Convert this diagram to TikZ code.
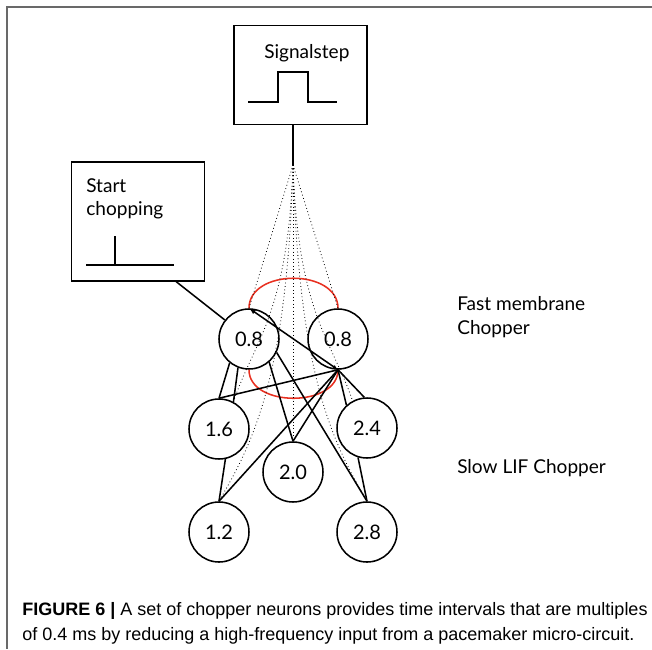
\documentclass[tikz,border=0pt]{standalone}
\usepackage{fontspec}
\usetikzlibrary{arrows.meta}
\newfontfamily\figfont{Lato}
\newfontfamily\capfont{Liberation Sans}
\definecolor{arcred}{RGB}{232,48,32}
\definecolor{framegray}{RGB}{105,105,105}
\tikzset{
  neuron/.style={
      draw,
      circle,
      line width=1.15pt,
      minimum size=45pt,
      inner sep=0pt,
      font=\figfont\fontsize{15}{18}\selectfont
    },
  stimbox/.style={
      draw,
      line width=1.15pt,
      inner sep=0pt
    },
  syn/.style={line width=1.15pt},
  fanline/.style={dotted, line width=0.6pt},
  recur/.style={arcred, line width=1.15pt},
  lbl/.style={
      anchor=base west,
      inner sep=0pt,
      font=\figfont\fontsize{14.3}{17}\selectfont
    },
  caption/.style={
      anchor=base west,
      inner sep=0pt,
      font=\capfont\fontsize{13.5}{16}\selectfont
    }
}

\begin{document}
\begin{tikzpicture}[x=0.75pt,y=-0.75pt,>=Latex]
\useasboundingbox (0,0) rectangle (652,649);
% the frame
\draw[framegray, line width=1.1pt] (652,7) -- (7,7) -- (7,649);

% the stimulus boxes
\node[stimbox, minimum width=100pt, minimum height=74pt] at (300.5,75) (sig) {};
\node[stimbox, minimum width=100pt, minimum height=89pt] at (138,221.5) (start) {};
\node[lbl] at (264,59) (sigtext) {Signalstep};
\node[lbl] at (86,192) (starttext) {Start};
\node[lbl] at (86,215) (starttext2) {chopping};
\draw[syn] (248,102) -| (278,72) -| (308,102) -- (337,102);
\draw[syn] (86,265) -- (174,265) (115,265) -- (115,236);
\coordinate (fan) at (293,165);

% the neurons
\node[neuron] at (249,339) (fast1) {0.8};
\node[neuron] at (338,339) (fast2) {0.8};
\node[neuron] at (219,429) (slow16) {1.6};
\node[neuron] at (367,428) (slow24) {2.4};
\node[neuron] at (293,472) (slow20) {2.0};
\node[neuron] at (219,532) (slow12) {1.2};
\node[neuron] at (367,532) (slow28) {2.8};
\node[lbl] at (457,310) (fastlbl) {Fast membrane};
\node[lbl] at (457,334) (fastlbl2) {Chopper};
\node[lbl] at (457,473) (slowlbl) {Slow LIF Chopper};

% the connections
\draw[syn] (sig.south -| fan) -- (fan);
\draw[syn] ([xshift=-22pt]start.south east) -- (fast1);
\draw[recur] (fast1.north) .. controls +(0,-40) and +(0,-40) .. (fast2.north);
\draw[recur] (fast1.south) .. controls +(0,38) and +(0,38) .. (fast2.south);
\draw[syn, {Latex[length=5pt]}-{Latex[length=4pt]}] (fast1.north) -- (fast2.south);
\draw[syn] (fast2.south) -- (slow16.north);
\draw[syn] (fast2.south) -- (slow20.north);
\draw[syn] (fast2.south) -- (slow12.north);
\draw[syn] (fast2.south) -- (slow24.132);
\draw[syn] (fast2.south) -- (slow24.95);
\draw[syn] (fast1.231) -- (slow16.north);
\draw[syn] (fast1.249) -- (slow16.62);
\draw[syn] (fast1.311) -- (slow20.north);
\draw[syn] (fast1.334) -- (slow28.north);
\draw[syn] (slow16.282) -- (slow12.north);
\draw[syn] (slow24.253) -- (slow28.north);

% the input fan
\draw[fanline] (fan) -- (fast1.north);
\draw[fanline] (fan) -- (fast2.north);
\draw[fanline] (fan) -- (slow20.north);
\draw[fanline] (fan) .. controls +(-5,150) and +(20,-60) .. (slow16.62);
\draw[fanline] (fan) .. controls +(5,150) and +(-20,-60) .. (slow24.118);
\draw[fanline] (fan) .. controls +(-6,210) and +(35,-60) .. (slow12.north);
\draw[fanline] (fan) .. controls +(6,210) and +(-35,-60) .. (slow28.north);

% the caption
\node[caption] at (22,615) (cap1) {\textbf{FIGURE 6 |} A set of chopper neurons provides time intervals that are multiples};
\node[caption] at (22,640) (cap2) {of 0.4 ms by reducing a high-frequency input from a pacemaker micro-circuit.};
\end{tikzpicture}
\end{document}
